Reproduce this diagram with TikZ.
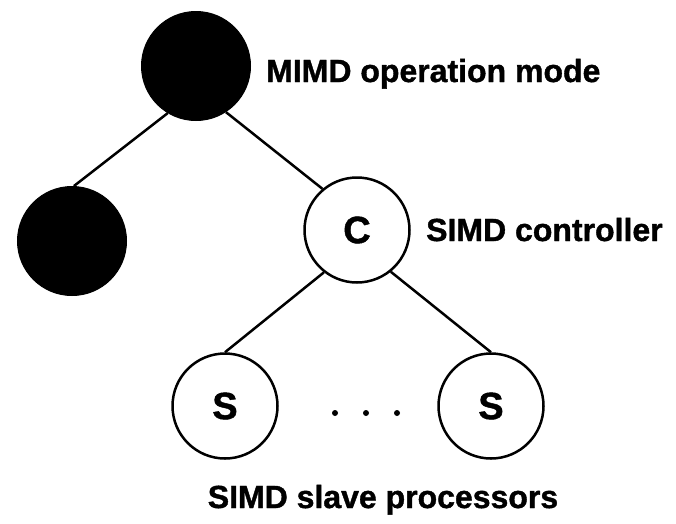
\documentclass[tikz,border=0pt]{standalone}
\usepackage{fontspec}
\setmainfont[BoldFeatures={FakeBold=1.2}]{Liberation Sans}
\begin{document}
\begin{tikzpicture}[x=1pt,y=-1pt,
  blk/.style={circle,fill=black,draw=black,line width=1pt,minimum size=109pt,inner sep=0pt},
  wht/.style={circle,draw=black,line width=2.5pt,minimum size=105pt,inner sep=0pt,font=\fontsize{38}{44}\selectfont\bfseries},
  lbl/.style={font=\fontsize{32}{38}\selectfont\bfseries,inner sep=0pt},
  dotn/.style={circle,fill=black,inner sep=0pt,minimum size=6pt},
  edge/.style={line width=2.5pt}]
\useasboundingbox (0,0) rectangle (676,523);
\node[blk] (top) at (196,66) {};
\node[blk] (left) at (72,241) {};
\node[wht] (c) at (357,230) {C};
\node[wht] (s1) at (225,406) {S};
\node[wht] (s2) at (491,406) {S};
\node[lbl,anchor=base west] (l1) at (266,82) {MIMD operation mode};
\node[lbl,anchor=base west] (l2) at (426,241) {SIMD controller};
\node[lbl,anchor=base] (l3) at (383,508) {SIMD slave processors};
\node[dotn] (d1) at (335,413) {};
\node[dotn] (d2) at (366,413) {};
\node[dotn] (d3) at (397,413) {};
\draw[edge] (top.239) -- (left.88);
\draw[edge] (top.303) -- (c.130);
\draw[edge] (c.232) -- (s1.90);
\draw[edge] (c.309) -- (s2.90);
\end{tikzpicture}
\end{document}
